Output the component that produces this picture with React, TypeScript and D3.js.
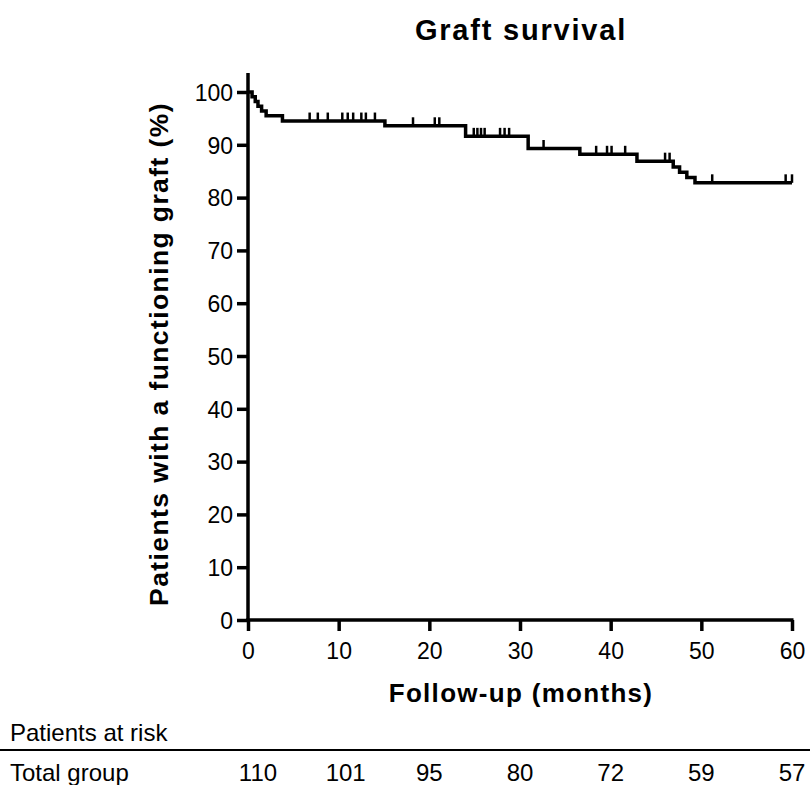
import React, { useEffect, useRef } from "react";
import * as d3 from "d3";

// Kaplan-Meier steps: [month, % with functioning graft]
const stepTimes = [0, 0.45, 0.8, 1.1, 1.5, 2.0, 3.8, 15.1, 24.0, 30.9, 36.6, 42.9, 46.9, 47.6, 48.4, 49.3, 60];
const stepValues = [100, 99.1, 98.2, 97.3, 96.4, 95.5, 94.5, 93.6, 91.6, 89.3, 88.2, 86.9, 85.8, 84.8, 83.8, 82.8, 82.8];

// censored observations (months)
const censorTimes = [
  6.8, 7.7, 8.8, 10.4, 11.0, 11.6, 12.5, 13.0, 14.0,
  18.2, 20.6, 21.1,
  24.9, 25.3, 25.7, 26.1, 27.8, 28.3, 28.8,
  32.6,
  38.4, 39.6, 40.1, 41.6,
  46.0, 46.5,
  51.2, 59.3, 60,
];

const xTicks = [0, 10, 20, 30, 40, 50, 60];
const yTicks = [0, 10, 20, 30, 40, 50, 60, 70, 80, 90, 100];
const riskMonths = [0, 10, 20, 30, 40, 50, 60];
const riskCounts = [110, 101, 95, 80, 72, 59, 57];

const W = 810;
const H = 785;

const App = () => {
  const ref = useRef<SVGSVGElement>(null);

  useEffect(() => {
    const svg = d3.select(ref.current);
    svg.selectAll("*").remove();

    const x = d3.scaleLinear().domain([0, 60]).range([248, 792]);
    const y = d3.scaleLinear().domain([0, 100]).range([620, 92]);
    const font = "'Liberation Sans', Arial, sans-serif";

    const survAt = (t: number) => {
      let v = stepValues[0];
      stepTimes.forEach((s, i) => {
        if (s <= t) v = stepValues[i];
      });
      return v;
    };

    // title
    svg.append("text")
      .attr("x", 521).attr("y", 40)
      .attr("text-anchor", "middle")
      .attr("font-family", font).attr("font-weight", "bold")
      .attr("font-size", 29).attr("letter-spacing", 1.8)
      .text("Graft survival");

    // axes
    const yAxis = svg.append("g").attr("transform", "translate(248,0)")
      .call(d3.axisLeft(y).tickValues(yTicks).tickSize(11).tickPadding(4).tickFormat(d3.format("d")));
    yAxis.select(".domain").remove();
    yAxis.selectAll("line").attr("stroke-width", 3.5);
    yAxis.selectAll("text").attr("font-family", font).attr("font-size", 23).attr("dy", "0.36em");

    const xAxis = svg.append("g").attr("transform", "translate(0,620)")
      .call(d3.axisBottom(x).tickValues(xTicks).tickSize(11).tickPadding(12).tickFormat(d3.format("d")));
    xAxis.select(".domain").remove();
    xAxis.selectAll("line").attr("stroke-width", 3.5);
    xAxis.selectAll("text").attr("font-family", font).attr("font-size", 23);

    svg.append("line")
      .attr("x1", 248).attr("x2", 248).attr("y1", y(103.6)).attr("y2", 621.75)
      .attr("stroke", "#000").attr("stroke-width", 3.5);
    svg.append("line")
      .attr("x1", 246.25).attr("x2", 793.5).attr("y1", 620).attr("y2", 620)
      .attr("stroke", "#000").attr("stroke-width", 3.5);

    // axis titles
    svg.append("text")
      .attr("transform", `translate(168,${y(50) - 2}) rotate(-90)`)
      .attr("text-anchor", "middle")
      .attr("font-family", font).attr("font-weight", "bold")
      .attr("font-size", 26.5).attr("letter-spacing", 1.4)
      .text("Patients with a functioning graft (%)");

    svg.append("text")
      .attr("x", 521).attr("y", 702)
      .attr("text-anchor", "middle")
      .attr("font-family", font).attr("font-weight", "bold")
      .attr("font-size", 26).attr("letter-spacing", 1.3)
      .text("Follow-up (months)");

    // survival curve
    const line = d3.line<number>()
      .x((_, i) => x(stepTimes[i]))
      .y((d) => y(d))
      .curve(d3.curveStepAfter);

    svg.append("path")
      .datum(stepValues)
      .attr("d", line)
      .attr("fill", "none")
      .attr("stroke", "#000")
      .attr("stroke-width", 3.5);

    svg.selectAll(".censor")
      .data(censorTimes)
      .enter().append("line")
      .attr("class", "censor")
      .attr("x1", (d) => x(d)).attr("x2", (d) => x(d))
      .attr("y1", (d) => y(survAt(d)))
      .attr("y2", (d) => y(survAt(d)) - 8.5)
      .attr("stroke", "#000").attr("stroke-width", 2.5);

    // patients at risk table
    svg.append("text")
      .attr("x", 10).attr("y", 741)
      .attr("font-family", font).attr("font-size", 24)
      .text("Patients at risk");
    svg.append("line")
      .attr("x1", 0).attr("x2", W).attr("y1", 750).attr("y2", 750)
      .attr("stroke", "#000").attr("stroke-width", 2);
    svg.append("text")
      .attr("x", 10).attr("y", 781)
      .attr("font-family", font).attr("font-size", 24)
      .text("Total group");
    svg.selectAll(".risk")
      .data(riskCounts)
      .enter().append("text")
      .attr("class", "risk")
      .attr("x", (_, i) => x(riskMonths[i]) + (i === 0 ? 10 : i === 1 ? 7 : 0))
      .attr("y", 781)
      .attr("text-anchor", "middle")
      .attr("font-family", font).attr("font-size", 24)
      .text((d) => d);
  }, []);

  return (
    <div style={{ position: "absolute", left: 0, top: 0 }}>
      <svg ref={ref} width={W} height={H} style={{ display: "block", background: "#fff" }}></svg>
    </div>
  );
};

export default App;
